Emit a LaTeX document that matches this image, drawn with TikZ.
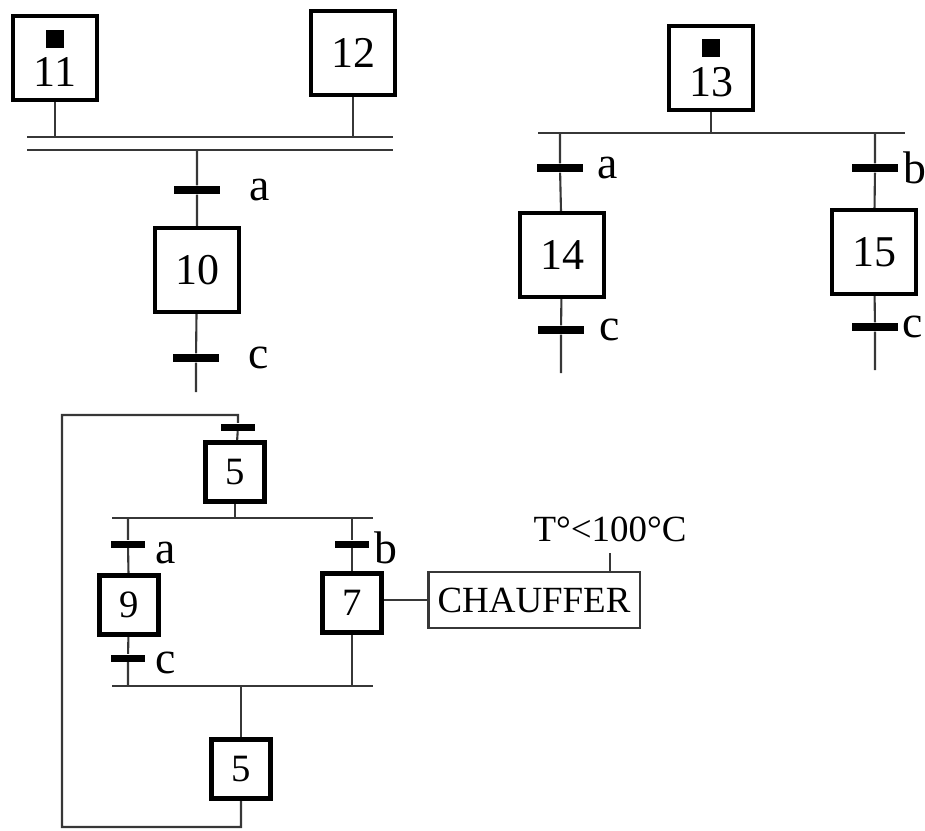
\documentclass[tikz,border=0pt]{standalone}
\usepackage{fontspec}
\setmainfont{Liberation Serif}
\usepackage{tikz}
\usetikzlibrary{positioning, calc, backgrounds}
\definecolor{traitgris}{RGB}{55,55,55}
\newcommand{\jeton}{\rule{0.18cm}{0.18cm}}
\tikzstyle{etape} = [draw, line width=1.2pt, minimum size=0.84cm, inner sep=0pt, align=center, font=\fontsize{12.5}{14}\selectfont]
\tikzstyle{petape} = [draw, line width=1.2pt, minimum size=0.59cm, inner sep=0pt, font=\fontsize{11}{13}\selectfont]
\tikzstyle{trans} = [fill=black, inner sep=0pt, minimum width=0.46cm, minimum height=0.08cm]
\tikzstyle{ptrans} = [fill=black, inner sep=0pt, minimum width=0.34cm, minimum height=0.07cm]
\tikzstyle{recep} = [inner sep=0pt, font=\fontsize{13}{15}\selectfont]
\tikzstyle{liaison} = [line width=0.6pt, traitgris]
\tikzstyle{action} = [draw=traitgris, line width=0.6pt, minimum width=2.11cm, minimum height=0.56cm, inner sep=0pt, font=\fontsize{10.5}{12}\selectfont]

\begin{document}
\begin{tikzpicture}[x=0.01cm, y=-0.01cm]
    \useasboundingbox (0,0) rectangle (925,830);

    % Grafcet 1 : convergence en ET
    \node[etape] (e11) at (55,58) {\jeton\\[-3pt]11};
    \node[etape] (e12) at (353,53) {12};
    \coordinate (sync1g) at (27,137);
    \coordinate (sync1d) at (393,137);
    \coordinate (sync2g) at (27,150);
    \coordinate (sync2d) at (393,150);
    \node[trans, label={[recep, xshift=0.28cm]right:a}] (t10a) at (197,190) {};
    \node[etape] (e10) at (197,270) {10};
    \node[trans, label={[recep, xshift=0.28cm]right:c}] (t10c) at (196,358) {};
    \coordinate (fin10) at (196,392);

    % Grafcet 2 : divergence en OU
    \node[etape] (e13) at (711,68) {\jeton\\[-3pt]13};
    \coordinate (div13g) at (538,133);
    \coordinate (div13d) at (905,133);
    \node[trans, label={[recep, xshift=0.13cm]right:a}] (t14a) at (560,168) {};
    \node[etape] (e14) at (562,255) {14};
    \node[trans, label={[recep, xshift=0.14cm]right:c}] (t14c) at (561,330) {};
    \coordinate (fin14) at (561,373);
    \node[trans, label={[recep, xshift=0.04cm]right:b}] (t15b) at (875,168) {};
    \node[etape] (e15) at (874,252) {15};
    \node[trans, label={[recep, xshift=0.03cm]right:c}] (t15c) at (875,327) {};
    \coordinate (fin15) at (875,370);

    % Grafcet 3 : divergence en ET et boucle
    \node[ptrans] (t5) at (238,427) {};
    \node[petape] (e5a) at (235,472) {5};
    \coordinate (div5g) at (112,518);
    \coordinate (div5d) at (373,518);
    \node[ptrans, label={[recep, xshift=0.09cm, yshift=-2.5pt]right:a}] (t9a) at (128,544) {};
    \node[petape] (e9) at (129,605) {9};
    \node[ptrans, label={[recep, xshift=0.09cm, yshift=-1.5pt]right:c}] (t9c) at (128,658) {};
    \node[ptrans, label={[recep, xshift=0.04cm, yshift=-1pt]right:b}] (t7b) at (352,544) {};
    \node[petape] (e7) at (352,603) {7};
    \coordinate (conv5g) at (112,686);
    \coordinate (conv5d) at (373,686);
    \node[petape] (e5b) at (241,769) {5};
    \coordinate (boucleh) at (62,415);
    \coordinate (boucleb) at (62,827);

    % Action associee
    \node[action] (chauffer) at (534,600) {CHAUFFER};
    \node[anchor=south, inner xsep=0pt, inner ysep=0.1cm, font=\fontsize{10.5}{12}\selectfont] (cond) at (610,553) {T°<100°C};

    % Liaisons
    \begin{scope}[on background layer]
        \draw[liaison] (e11) -- (e11 |- sync1g);
        \draw[liaison] (e12) -- (e12 |- sync1g);
        \draw[liaison] (sync1g) -- (sync1d);
        \draw[liaison] (sync2g) -- (sync2d);
        \draw[liaison] (t10a |- sync2g) -- (t10a) -- (e10) -- (t10c) -- (fin10);

        \draw[liaison] (e13) -- (e13 |- div13g);
        \draw[liaison] (div13g) -- (div13d);
        \draw[liaison] (t14a |- div13g) -- (t14a) -- (e14) -- (t14c) -- (fin14);
        \draw[liaison] (t15b |- div13g) -- (t15b) -- (e15) -- (t15c) -- (fin15);

        \draw[liaison] (e5b) -- (e5b |- boucleb) -- (boucleb) -- (boucleh) -- (t5 |- boucleh) -- (t5) -- (e5a);
        \draw[liaison] (e5a) -- (e5a |- div5g);
        \draw[liaison] (div5g) -- (div5d);
        \draw[liaison] (t9a |- div5g) -- (t9a) -- (e9) -- (t9c) -- (t9c |- conv5g);
        \draw[liaison] (t7b |- div5g) -- (t7b) -- (e7) -- (e7 |- conv5g);
        \draw[liaison] (conv5g) -- (conv5d);
        \draw[liaison] (e5b |- conv5g) -- (e5b);

        \draw[liaison] (chauffer.west -| e7.east) -- (chauffer.west);
        \draw[liaison] (chauffer.north -| cond.south) -- (cond.south);
    \end{scope}
\end{tikzpicture}
\end{document}
